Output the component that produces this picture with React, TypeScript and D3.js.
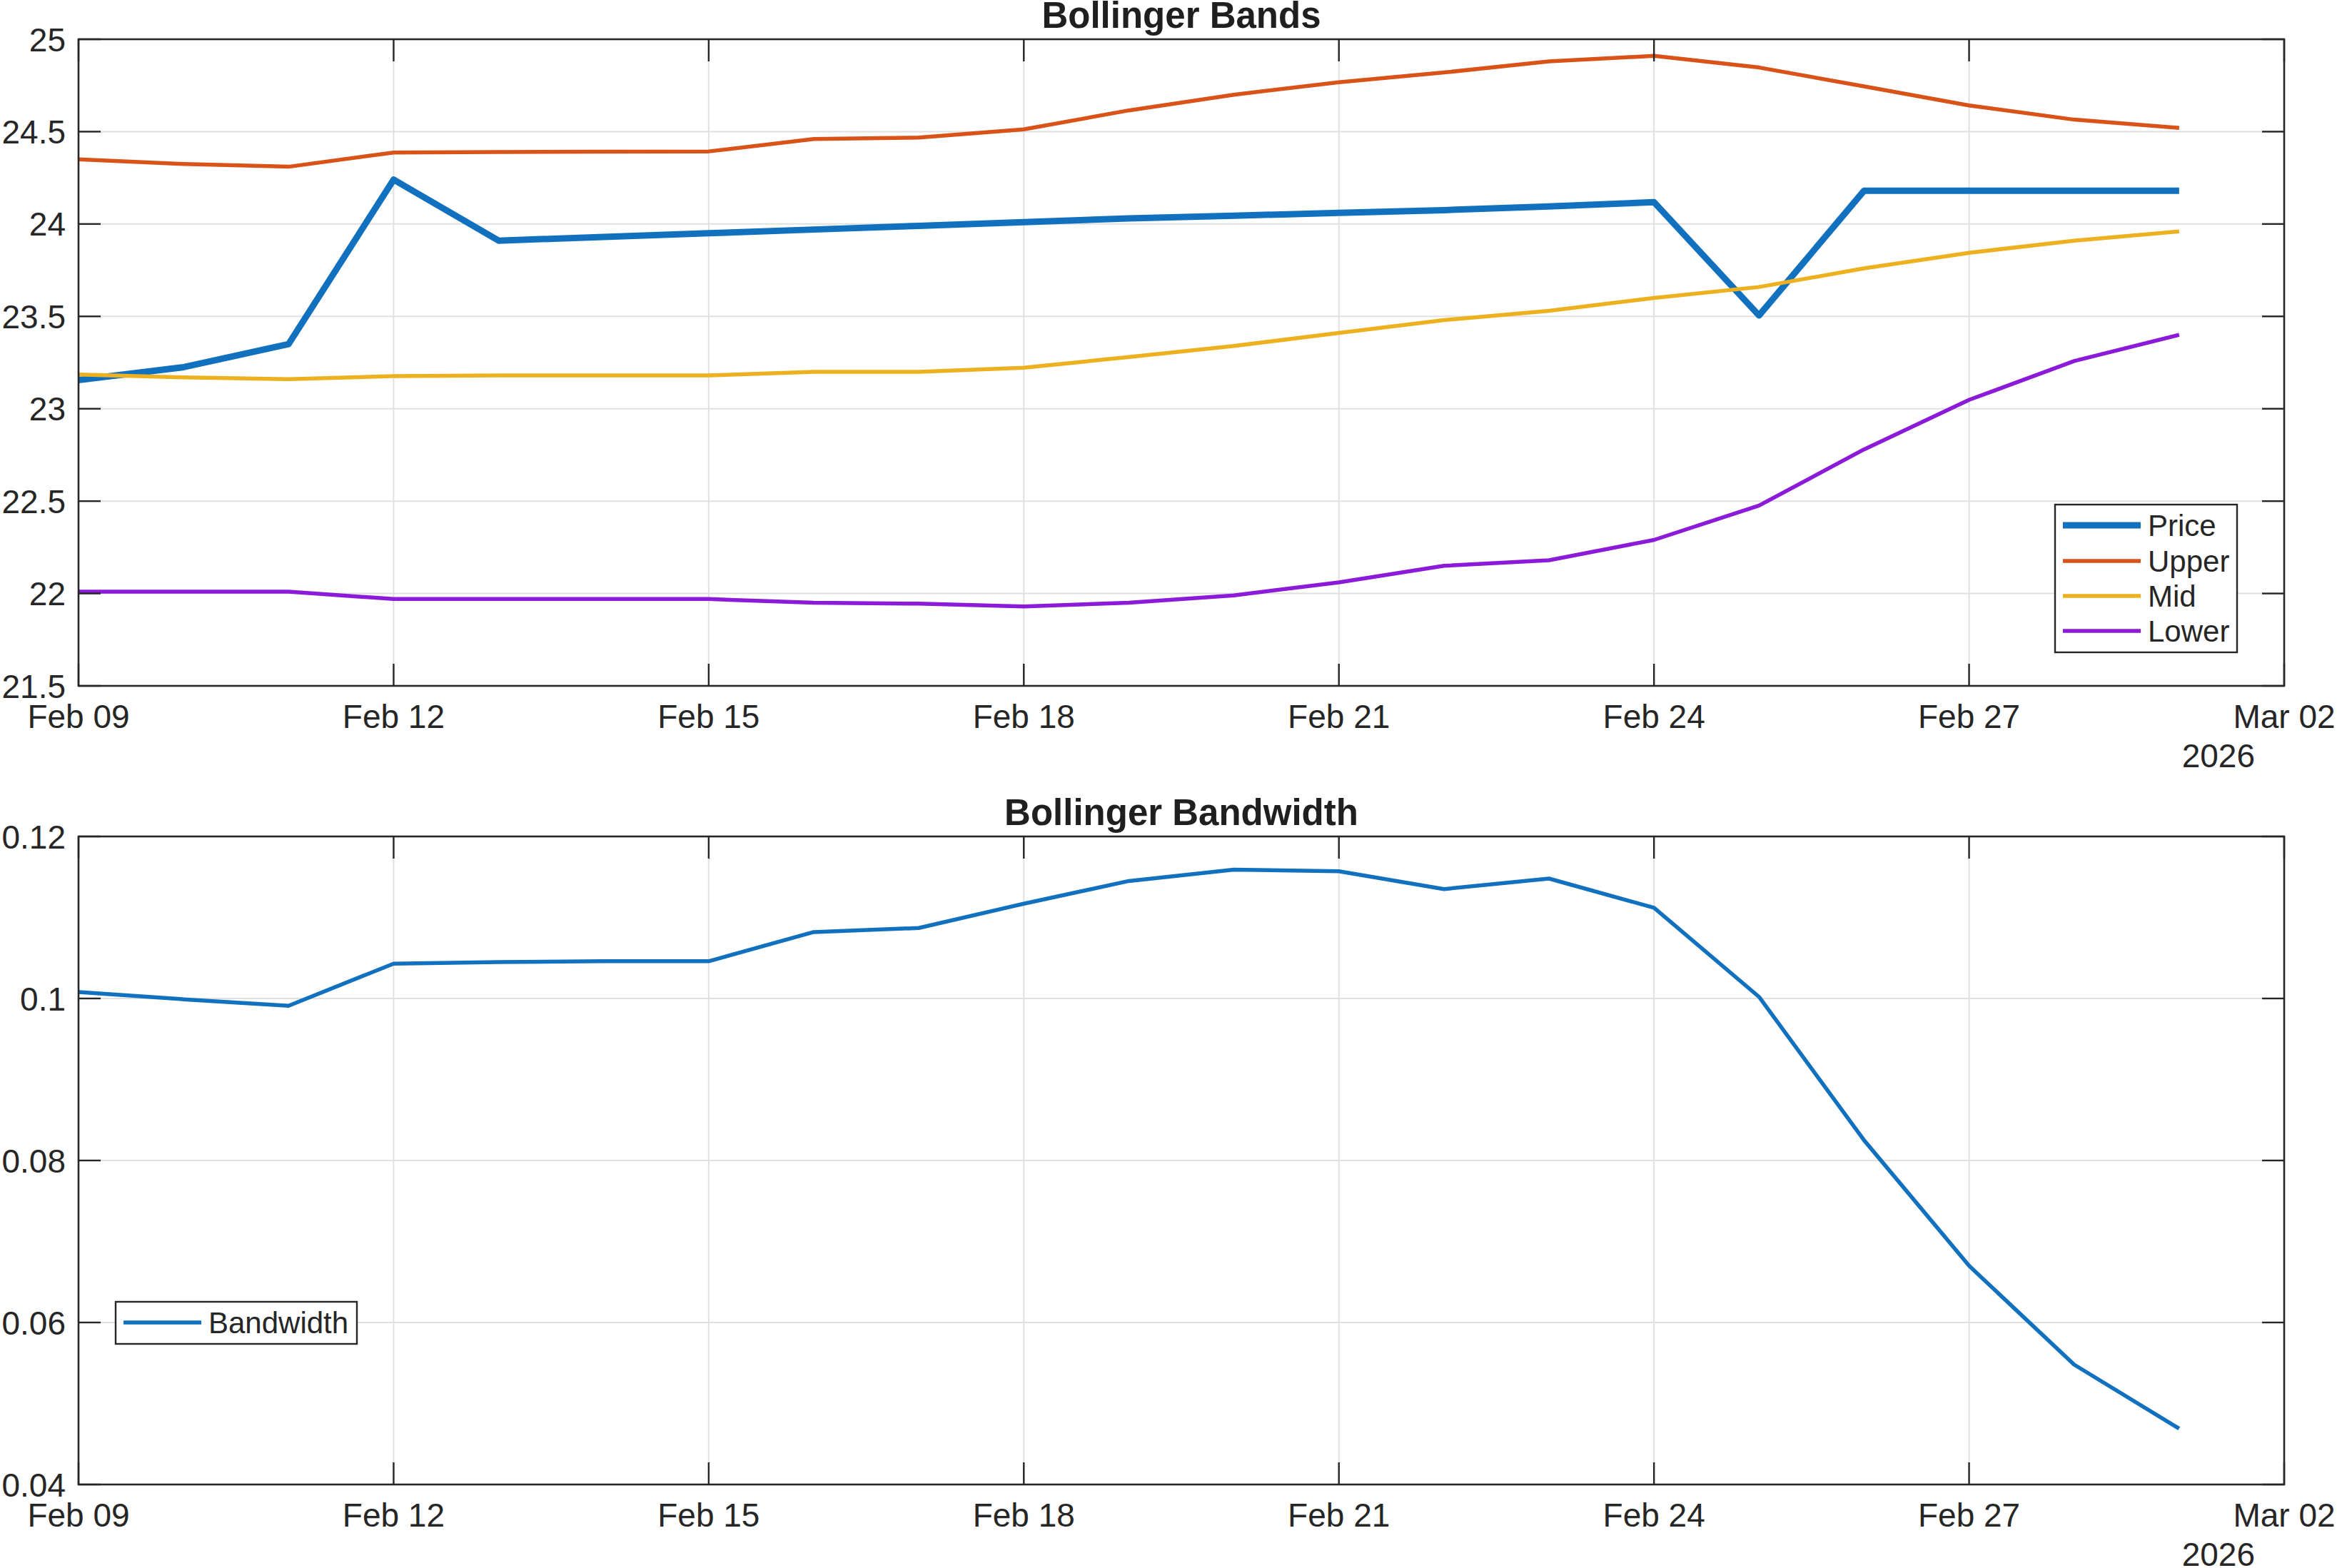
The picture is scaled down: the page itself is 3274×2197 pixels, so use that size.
import React, { useEffect } from "react";
import * as d3 from "d3";

// daily closes and 20-day Bollinger bands, Feb 09 – Mar 01 2026
const dates = [
  "2026-02-09", "2026-02-10", "2026-02-11", "2026-02-12", "2026-02-13", "2026-02-14", "2026-02-15",
  "2026-02-16", "2026-02-17", "2026-02-18", "2026-02-19", "2026-02-20", "2026-02-21", "2026-02-22",
  "2026-02-23", "2026-02-24", "2026-02-25", "2026-02-26", "2026-02-27", "2026-02-28", "2026-03-01",
];
const price = [23.155, 23.225, 23.35, 24.24, 23.91, 23.93, 23.95, 23.97, 23.99, 24.01, 24.03,
  24.045, 24.06, 24.075, 24.095, 24.118, 23.505, 24.18, 24.18, 24.18, 24.18];
const upper = [24.35, 24.325, 24.31, 24.387, 24.39, 24.392, 24.393, 24.46, 24.468, 24.512, 24.615,
  24.7, 24.767, 24.82, 24.88, 24.91, 24.847, 24.745, 24.642, 24.565, 24.52];
const mid = [23.185, 23.17, 23.16, 23.177, 23.18, 23.18, 23.18, 23.2, 23.2, 23.222, 23.28,
  23.34, 23.41, 23.48, 23.53, 23.6, 23.659, 23.76, 23.844, 23.91, 23.96];
const lower = [22.01, 22.01, 22.01, 21.97, 21.97, 21.97, 21.97, 21.95, 21.945, 21.93, 21.95,
  21.99, 22.06, 22.15, 22.18, 22.29, 22.476, 22.78, 23.048, 23.258, 23.4];
const bandwidth = [0.1008, 0.0999, 0.0991, 0.1043, 0.1045, 0.1046, 0.1046, 0.1082, 0.1087, 0.1117, 0.1145,
  0.1159, 0.1157, 0.1135, 0.1148, 0.1112, 0.1002, 0.0825, 0.067, 0.0548, 0.0469];

const dateTicks = ["2026-02-09", "2026-02-12", "2026-02-15", "2026-02-18", "2026-02-21", "2026-02-24", "2026-02-27", "2026-03-02"];
const bandTicks = [21.5, 22, 22.5, 23, 23.5, 24, 24.5, 25];
const bwTicks = [0.04, 0.06, 0.08, 0.1, 0.12];

const W = 3274;
const H = 2197;
const LEFT = 110;
const RIGHT = 3200;
const FONT = "'Liberation Sans', Arial, Helvetica, sans-serif";
const AX = "#262626";
const GRID = "#e0e0e0";
const TICK = 31;

const parse = d3.utcParse("%Y-%m-%d");
const fmt = d3.utcFormat("%b %d");
const days = dates.map((d) => parse(d) as Date);

const x = d3
  .scaleUtc()
  .domain([parse(dateTicks[0]) as Date, parse(dateTicks[dateTicks.length - 1]) as Date])
  .range([LEFT, RIGHT]);

type Series = { name: string; values: number[]; color: string; width: number };

type LegendSpec = { x0: number; x1: number; y0: number; y1: number; rows: number[] };

function Panel(props: {
  top: number;
  bottom: number;
  title: string;
  domain: [number, number];
  ticks: number[];
  series: Series[];
  legend: LegendSpec;
}) {
  const { top, bottom, title, domain, ticks, series, legend } = props;
  const y = d3.scaleLinear().domain(domain).range([bottom, top]);
  const line = d3
    .line<number>()
    .x((_, i) => x(days[i]))
    .y((v) => y(v));
  const mid = (LEFT + RIGHT) / 2;

  return (
    <g>
      {/* grid */}
      {dateTicks.map((t) => (
        <line key={"gx" + t} x1={x(parse(t) as Date)} x2={x(parse(t) as Date)} y1={top} y2={bottom} stroke={GRID} strokeWidth={2} />
      ))}
      {ticks.map((t) => (
        <line key={"gy" + t} x1={LEFT} x2={RIGHT} y1={y(t)} y2={y(t)} stroke={GRID} strokeWidth={2} />
      ))}

      {/* data */}
      {series.map((s) => (
        <path key={s.name} d={line(s.values) || ""} fill="none" stroke={s.color} strokeWidth={s.width} strokeLinejoin="round" />
      ))}

      {/* box + inward ticks */}
      <rect x={LEFT} y={top} width={RIGHT - LEFT} height={bottom - top} fill="none" stroke={AX} strokeWidth={2.6} />
      {dateTicks.map((t) => {
        const px = x(parse(t) as Date);
        return (
          <g key={"tx" + t}>
            <line x1={px} x2={px} y1={bottom} y2={bottom - TICK} stroke={AX} strokeWidth={2.4} />
            <line x1={px} x2={px} y1={top} y2={top + TICK} stroke={AX} strokeWidth={2.4} />
            <text x={px} y={bottom + 59} textAnchor="middle" fontSize={46} fill={AX}>
              {fmt(parse(t) as Date)}
            </text>
          </g>
        );
      })}
      <text x={3159} y={bottom + 114} textAnchor="end" fontSize={46} fill={AX}>
        2026
      </text>
      {ticks.map((t) => (
        <g key={"ty" + t}>
          <line x1={LEFT} x2={LEFT + TICK} y1={y(t)} y2={y(t)} stroke={AX} strokeWidth={2.4} />
          <line x1={RIGHT} x2={RIGHT - TICK} y1={y(t)} y2={y(t)} stroke={AX} strokeWidth={2.4} />
          <text x={92} y={y(t) + 16.5} textAnchor="end" fontSize={46} fill={AX}>
            {String(t)}
          </text>
        </g>
      ))}

      <text x={mid} y={top - 16} textAnchor="middle" fontSize={51} fontWeight="bold" fill="#1f1f1f">
        {title}
      </text>

      {/* legend */}
      <rect x={legend.x0} y={legend.y0} width={legend.x1 - legend.x0} height={legend.y1 - legend.y0} fill="#fff" stroke={AX} strokeWidth={2.4} />
      {series.map((s, i) => (
        <g key={"lg" + s.name}>
          <line x1={legend.x0 + 11} x2={legend.x0 + 120} y1={legend.rows[i]} y2={legend.rows[i]} stroke={s.color} strokeWidth={s.width} />
          <text x={legend.x0 + 130} y={legend.rows[i] + 15} fontSize={42} fill={AX}>
            {s.name}
          </text>
        </g>
      ))}
    </g>
  );
}

export default function App() {
  useEffect(() => {
    document.body.style.margin = "0";
  }, []);

  const bandSeries: Series[] = [
    { name: "Price", values: price, color: "#1271be", width: 9 },
    { name: "Upper", values: upper, color: "#d95319", width: 5.5 },
    { name: "Mid", values: mid, color: "#edb120", width: 5.5 },
    { name: "Lower", values: lower, color: "#8c1ad9", width: 5.5 },
  ];
  const bwSeries: Series[] = [{ name: "Bandwidth", values: bandwidth, color: "#1271be", width: 5.5 }];

  return (
    <svg width={W} height={H} viewBox={`0 0 ${W} ${H}`} style={{ display: "block", background: "#fff" }} fontFamily={FONT}>
      <rect width={W} height={H} fill="#fff" />
      <Panel
        top={55}
        bottom={961}
        title="Bollinger Bands"
        domain={[21.5, 25]}
        ticks={bandTicks}
        series={bandSeries}
        legend={{ x0: 2879, x1: 3134, y0: 707, y1: 914, rows: [736, 786, 835, 884] }}
      />
      <Panel
        top={1172}
        bottom={2080}
        title="Bollinger Bandwidth"
        domain={[0.04, 0.12]}
        ticks={bwTicks}
        series={bwSeries}
        legend={{ x0: 162, x1: 500, y0: 1824, y1: 1883, rows: [1853] }}
      />
    </svg>
  );
}
